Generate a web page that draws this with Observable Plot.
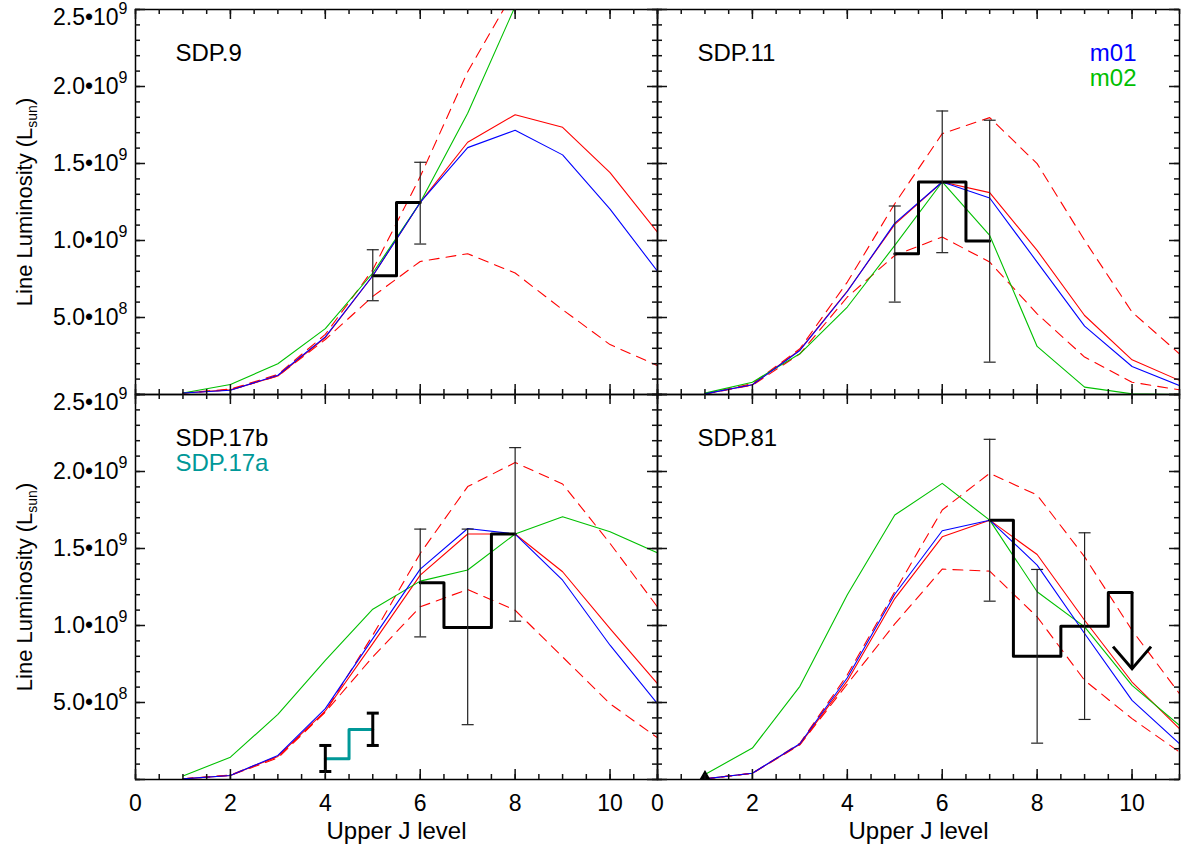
<!DOCTYPE html>
<html><head><meta charset="utf-8">
<script src="https://cdn.jsdelivr.net/npm/d3@7"></script>
<script src="https://cdn.jsdelivr.net/npm/@observablehq/plot@0.6"></script>
<style>
html,body{margin:0;padding:0;background:#fff;}
#chart{width:1181px;height:846px;}
</style></head><body><div id="chart"></div>
<script>
// Upper J level of the CO line
const J = [1, 2, 3, 4, 5, 6, 7, 8, 9, 10, 11];
const panelNames = ["SDP.9", "SDP.11", "SDP.17b", "SDP.81"];
const panelCol = [0, 1, 0, 1];
const panelRow = [0, 0, 1, 1];

// Model line luminosities (units of 1e9 Lsun), J = 1..11
const sdp9_m01   = [0.010, 0.028, 0.125, 0.374, 0.771, 1.247, 1.603, 1.716, 1.556, 1.204, 0.800];
const sdp9_m02   = [0.010, 0.065, 0.200, 0.428, 0.789, 1.247, 1.826, 2.520];
const sdp9_red   = [0.010, 0.030, 0.120, 0.370, 0.771, 1.247, 1.638, 1.817, 1.735, 1.441, 1.054];
const sdp9_redHi = [0.010, 0.035, 0.130, 0.390, 0.810, 1.415, 2.096, 2.630];
const sdp9_redLo = [0.010, 0.030, 0.120, 0.357, 0.637, 0.864, 0.914, 0.789, 0.551, 0.324, 0.188];

const sdp11_m01   = [0.004, 0.063, 0.286, 0.669, 1.113, 1.380, 1.276, 0.860, 0.444, 0.182, 0.058];
const sdp11_m02   = [0.009, 0.080, 0.264, 0.568, 0.968, 1.380, 1.033, 0.312, 0.048, 0.004, 0.000];
const sdp11_red   = [0.004, 0.063, 0.290, 0.672, 1.105, 1.380, 1.311, 0.936, 0.513, 0.225, 0.091];
const sdp11_redHi = [0.005, 0.070, 0.297, 0.730, 1.239, 1.694, 1.798, 1.499, 1.001, 0.535, 0.264];
const sdp11_redLo = [0.004, 0.060, 0.264, 0.633, 0.903, 1.023, 0.860, 0.524, 0.243, 0.080, 0.030];

const sdp17_m01   = [0.004, 0.026, 0.156, 0.460, 0.915, 1.366, 1.630, 1.594, 1.294, 0.872, 0.492];
const sdp17_m02   = [0.022, 0.145, 0.423, 0.774, 1.106, 1.288, 1.360, 1.594, 1.706, 1.609, 1.472];
const sdp17_red   = [0.004, 0.026, 0.150, 0.445, 0.882, 1.327, 1.594, 1.594, 1.349, 0.980, 0.622];
const sdp17_redHi = [0.004, 0.030, 0.150, 0.440, 0.937, 1.468, 1.902, 2.058, 1.919, 1.533, 1.120];
const sdp17_redLo = [0.004, 0.026, 0.140, 0.438, 0.796, 1.121, 1.234, 1.099, 0.796, 0.492, 0.271];

const sdp81_m01   = [0.004, 0.041, 0.232, 0.661, 1.203, 1.615, 1.684, 1.392, 0.948, 0.514, 0.232];
const sdp81_m02   = [0.033, 0.204, 0.605, 1.200, 1.717, 1.923, 1.684, 1.219, 0.991, 0.611, 0.351];
const sdp81_red   = [0.004, 0.041, 0.228, 0.640, 1.175, 1.576, 1.684, 1.461, 1.034, 0.633, 0.330];
const sdp81_redHi = [0.004, 0.041, 0.235, 0.680, 1.220, 1.750, 1.988, 1.847, 1.446, 0.969, 0.557];
const sdp81_redLo = [0.004, 0.040, 0.225, 0.620, 1.010, 1.366, 1.353, 1.056, 0.644, 0.395, 0.178];

// Observed line luminosities (1e9 Lsun) with error ranges
const sdp9_obsJ  = [5, 6];
const sdp9_obsL  = [0.771, 1.247];
const sdp9_errJ  = [5, 6];
const sdp9_errLo = [0.609, 0.977];
const sdp9_errHi = [0.940, 1.508];

const sdp11_obsJ  = [5, 6, 7];
const sdp11_obsL  = [0.914, 1.380, 0.997];
const sdp11_errJ  = [5, 6, 7];
const sdp11_errLo = [0.600, 0.921, 0.210];
const sdp11_errHi = [1.224, 1.841, 1.781];

const sdp17b_obsJ  = [6, 7, 8];
const sdp17b_obsL  = [1.277, 0.987, 1.594];
const sdp17b_errJ  = [6, 7, 8];
const sdp17b_errLo = [0.926, 0.356, 1.028];
const sdp17b_errHi = [1.626, 1.626, 2.155];

const sdp17a_obsJ  = [4, 5];
const sdp17a_obsL  = [0.134, 0.325];
const sdp17a_errLo = [0.052, 0.221];
const sdp17a_errHi = [0.221, 0.431];

const sdp81_obsJ  = [7, 8, 9, 10];
const sdp81_obsL  = [1.684, 0.800, 0.995, 1.214];
const sdp81_errJ  = [7, 8, 9];
const sdp81_errLo = [1.158, 0.236, 0.390];
const sdp81_errHi = [2.209, 1.364, 1.602];
const sdp81_limJ   = [10];
const sdp81_limTop = [1.214];
const sdp81_limTip = [0.720];
const sdp81_ptJ = [1];
const sdp81_ptL = [0.020];

// Axes
const xDomain = [0, 11];
const yDomain = [0, 2.5];
const xMajor = [0, 2, 4, 6, 8, 10];
const xMinor = d3.range(0, 11.01, 0.5);
const yMajor = [0, 0.5, 1, 1.5, 2, 2.5];
const yMinor = d3.range(0, 2.501, 0.1);
const yLabelTicks = [0.5, 1, 1.5, 2, 2.5];

// ---- layout ----
const W = 1181, H = 846, ML = 135, MR = 2, MT = 9, MB = 67;
const facetW = (W - ML - MR) / 2;
const facetH = (H - MT - MB) / 2;
const MINOR = 5, MAJOR = 10; // tick lengths in pixels
// pixel lengths converted to scale units
const xPerPx = (xDomain[1] - xDomain[0]) / facetW;
const yPerPx = (yDomain[1] - yDomain[0]) / facetH;

// ---- build tables ----
const modelArrays = [
  {m01: sdp9_m01, m02: sdp9_m02, red: sdp9_red, redHi: sdp9_redHi, redLo: sdp9_redLo},
  {m01: sdp11_m01, m02: sdp11_m02, red: sdp11_red, redHi: sdp11_redHi, redLo: sdp11_redLo},
  {m01: sdp17_m01, m02: sdp17_m02, red: sdp17_red, redHi: sdp17_redHi, redLo: sdp17_redLo},
  {m01: sdp81_m01, m02: sdp81_m02, red: sdp81_red, redHi: sdp81_redHi, redLo: sdp81_redLo}
];
const models = [];
modelArrays.forEach((set, i) => {
  for (const [series, arr] of Object.entries(set)) {
    arr.forEach((v, k) => models.push({panel: panelNames[i], col: panelCol[i], row: panelRow[i], series, J: J[k], L: v}));
  }
});
const bySeries = s => models.filter(d => d.series === s);

const obsSets = [
  [0, sdp9_obsJ, sdp9_obsL], [1, sdp11_obsJ, sdp11_obsL], [2, sdp17b_obsJ, sdp17b_obsL], [3, sdp81_obsJ, sdp81_obsL]
];
const obs = [];
obsSets.forEach(([i, js, ls]) => js.forEach((j, k) => obs.push({panel: panelNames[i], col: panelCol[i], row: panelRow[i], J: j, L: ls[k]})));
const obs17a = sdp17a_obsJ.map((j, k) => ({col: 0, row: 1, J: j, L: sdp17a_obsL[k]}));

const errSets = [
  [0, sdp9_errJ, sdp9_errLo, sdp9_errHi], [1, sdp11_errJ, sdp11_errLo, sdp11_errHi],
  [2, sdp17b_errJ, sdp17b_errLo, sdp17b_errHi], [3, sdp81_errJ, sdp81_errLo, sdp81_errHi]
];
const errs = [];
errSets.forEach(([i, js, lo, hi]) => js.forEach((j, k) => errs.push({col: panelCol[i], row: panelRow[i], J: j, lo: lo[k], hi: hi[k]})));
const errs17a = sdp17a_obsJ.map((j, k) => ({col: 0, row: 1, J: j, lo: sdp17a_errLo[k], hi: sdp17a_errHi[k]}));
const limits = sdp81_limJ.map((j, k) => ({col: 1, row: 1, J: j, top: sdp81_limTop[k], tip: sdp81_limTip[k]}));
const pts81 = sdp81_ptJ.map((j, k) => ({col: 1, row: 1, J: j, L: sdp81_ptL[k]}));

const panelLabels = panelNames.map((name, i) => ({name, col: panelCol[i], row: panelRow[i]}));
const leftPanels = [{col: 0, row: 0}, {col: 0, row: 1}];
const bottomPanels = [{col: 0, row: 1}, {col: 1, row: 1}];

// inward tick marks on all four sides of every panel
const xTickRows = (ticks, len) => panelNames.flatMap((p, i) => ticks.flatMap(v => [
  {col: panelCol[i], row: panelRow[i], v, a: yDomain[0], b: yDomain[0] + len * yPerPx},
  {col: panelCol[i], row: panelRow[i], v, a: yDomain[1] - len * yPerPx, b: yDomain[1]}
]));
const yTickRows = (ticks, len) => panelNames.flatMap((p, i) => ticks.flatMap(v => [
  {col: panelCol[i], row: panelRow[i], v, a: xDomain[0], b: xDomain[0] + len * xPerPx},
  {col: panelCol[i], row: panelRow[i], v, a: xDomain[1] - len * xPerPx, b: xDomain[1]}
]));
const xTicks = [...xTickRows(xMinor, MINOR), ...xTickRows(xMajor, MAJOR)];
const yTicks = [...yTickRows(yMinor, MINOR), ...yTickRows(yMajor, MAJOR)];

const capSym = {draw(ctx) { ctx.moveTo(-6, 0); ctx.lineTo(6, 0); }};
const chevron = {draw(ctx) { ctx.moveTo(-19, -22); ctx.lineTo(0, 0); ctx.lineTo(19, -22); }};

const fmt = v => {
  const e = v >= 1 ? 9 : 8;
  const m = v / Math.pow(10, e - 9);
  return m.toFixed(1) + "•10^" + e;
};

const fc = {fx: "col", fy: "row"};
const RED = "#ff0000", BLUE = "#0000ff", GREEN = "#00c000", TEAL = "#009898";
const tk = {stroke: "#111", strokeWidth: 1.5};

const chart = Plot.plot({
  width: W,
  height: H,
  marginLeft: ML,
  marginRight: MR,
  marginTop: MT,
  marginBottom: MB,
  style: {fontFamily: "'Liberation Sans', Arial, Helvetica, sans-serif", fontSize: "23px", background: "white", overflow: "visible"},
  x: {domain: xDomain},
  y: {domain: yDomain},
  fx: {domain: [0, 1], padding: 0, axis: null},
  fy: {domain: [0, 1], padding: 0, axis: null},
  marks: [
    // model curves
    Plot.line(bySeries("redHi"), {...fc, x: "J", y: "L", stroke: RED, strokeWidth: 1.1, strokeDasharray: "10,7", clip: true}),
    Plot.line(bySeries("redLo"), {...fc, x: "J", y: "L", stroke: RED, strokeWidth: 1.1, strokeDasharray: "10,7", clip: true}),
    Plot.line(bySeries("red"), {...fc, x: "J", y: "L", stroke: RED, strokeWidth: 1.1, clip: true}),
    Plot.line(bySeries("m02"), {...fc, x: "J", y: "L", stroke: GREEN, strokeWidth: 1.1, clip: true}),
    Plot.line(bySeries("m01"), {...fc, x: "J", y: "L", stroke: BLUE, strokeWidth: 1.1, clip: true}),
    // observations
    Plot.line(obs, {...fc, x: "J", y: "L", z: "panel", curve: "step", stroke: "black", strokeWidth: 3}),
    Plot.ruleX(errs, {...fc, x: "J", y1: "lo", y2: "hi", stroke: "#222", strokeWidth: 1.2}),
    Plot.dot(errs, {...fc, x: "J", y: "lo", symbol: capSym, fill: "none", stroke: "#222", strokeWidth: 1.2}),
    Plot.dot(errs, {...fc, x: "J", y: "hi", symbol: capSym, fill: "none", stroke: "#222", strokeWidth: 1.2}),
    Plot.line(obs17a, {...fc, x: "J", y: "L", curve: "step", stroke: TEAL, strokeWidth: 3}),
    Plot.ruleX(errs17a, {...fc, x: "J", y1: "lo", y2: "hi", stroke: "black", strokeWidth: 3}),
    Plot.dot(errs17a, {...fc, x: "J", y: "lo", symbol: capSym, fill: "none", stroke: "black", strokeWidth: 3}),
    Plot.dot(errs17a, {...fc, x: "J", y: "hi", symbol: capSym, fill: "none", stroke: "black", strokeWidth: 3}),
    Plot.ruleX(limits, {...fc, x: "J", y1: "tip", y2: "top", stroke: "black", strokeWidth: 3}),
    Plot.dot(limits, {...fc, x: "J", y: "tip", symbol: chevron, fill: "none", stroke: "black", strokeWidth: 3}),
    Plot.dot(pts81, {...fc, x: "J", y: "L", symbol: "triangle", r: 3.2, fill: "black", stroke: "black", strokeWidth: 1.5}),
    // frame and inward ticks
    Plot.frame({stroke: "black", strokeWidth: 1.5}),
    Plot.ruleX(xTicks, {...fc, x: "v", y1: "a", y2: "b", ...tk}),
    Plot.ruleY(yTicks, {...fc, y: "v", x1: "a", x2: "b", ...tk}),
    // tick labels
    Plot.axisY({anchor: "left", ticks: yLabelTicks, tickSize: 0, tickPadding: 8, tickFormat: fmt, label: null, facetAnchor: "left", fontSize: 23}),
    Plot.axisX({anchor: "bottom", ticks: xMajor, tickSize: 0, tickPadding: 15, label: null, facetAnchor: "bottom", fontSize: 23}),
    // axis titles
    Plot.text(leftPanels, {...fc, text: () => "Line Luminosity (L_sun)", frameAnchor: "left", rotate: -90, dx: -111, textAnchor: "middle", lineAnchor: "middle", fontSize: 22, fill: "black"}),
    Plot.text(bottomPanels, {...fc, text: () => "Upper J level", frameAnchor: "bottom", lineAnchor: "top", textAnchor: "middle", dy: 42, fontSize: 24, fill: "black"}),
    // panel labels and legend
    Plot.text(panelLabels, {...fc, text: "name", frameAnchor: "top-left", dx: 40, dy: 34, fontSize: 24, fill: "black"}),
    Plot.text([{col: 0, row: 1}], {...fc, text: () => "SDP.17a", frameAnchor: "top-left", dx: 40, dy: 59, fontSize: 24, fill: TEAL}),
    Plot.text([{col: 1, row: 0}], {...fc, text: () => "m01", frameAnchor: "top-right", textAnchor: "end", dx: -43, dy: 34, fontSize: 24, fill: BLUE}),
    Plot.text([{col: 1, row: 0}], {...fc, text: () => "m02", frameAnchor: "top-right", textAnchor: "end", dx: -43, dy: 59, fontSize: 24, fill: GREEN})
  ]
});

// superscripts / subscripts as real text
const NS = "http://www.w3.org/2000/svg";
chart.querySelectorAll("text").forEach(t => {
  const s = t.textContent;
  if (s.includes("^")) {
    const [base, exp] = s.split("^");
    t.textContent = "";
    const a = document.createElementNS(NS, "tspan");
    a.textContent = base;
    if (base.startsWith("2.5")) a.setAttribute("dy", "8");
    const b = document.createElementNS(NS, "tspan");
    b.textContent = exp;
    b.setAttribute("dy", "-11");
    b.setAttribute("font-size", "16");
    t.appendChild(a); t.appendChild(b);
  } else if (s.includes("_sun")) {
    const [base, rest] = s.split("_sun");
    t.textContent = "";
    const a = document.createElementNS(NS, "tspan"); a.textContent = base;
    const b = document.createElementNS(NS, "tspan"); b.textContent = "sun";
    b.setAttribute("dy", "5"); b.setAttribute("font-size", "14");
    const c = document.createElementNS(NS, "tspan"); c.textContent = rest;
    c.setAttribute("dy", "-5");
    t.appendChild(a); t.appendChild(b); t.appendChild(c);
  }
});

document.getElementById("chart").appendChild(chart);
</script>
</body></html>
